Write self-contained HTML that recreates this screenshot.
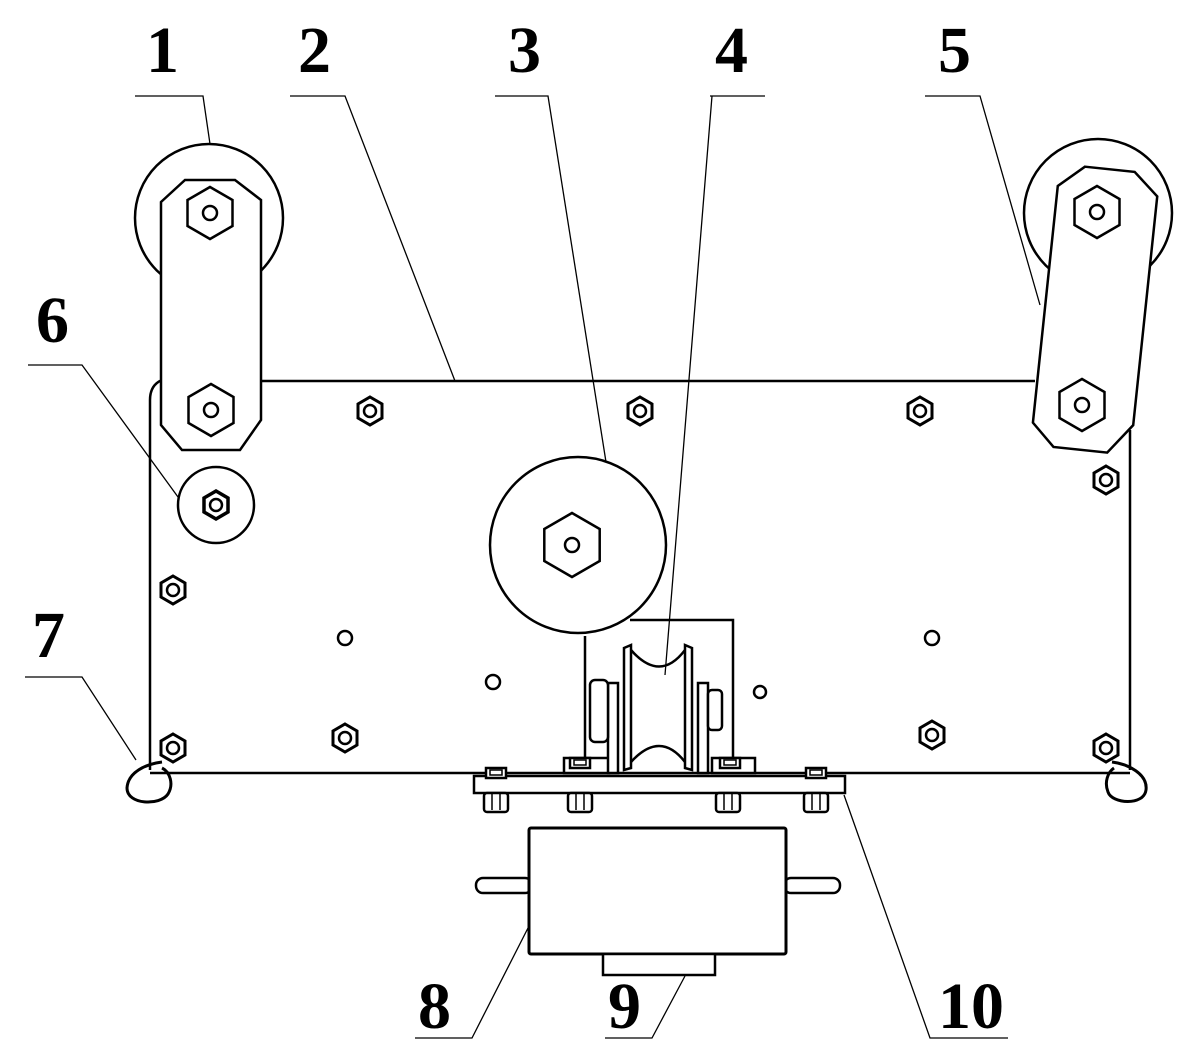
<!DOCTYPE html>
<html><head><meta charset="utf-8"><style>
html,body{margin:0;padding:0;background:#fff}
svg{display:block}
text{font-family:"Liberation Serif",serif;font-weight:bold;font-size:66px;fill:#000}
</style></head><body>
<svg width="1202" height="1057" viewBox="0 0 1202 1057" xmlns="http://www.w3.org/2000/svg">
<defs>
<g id="nut"><polygon points="0,-14 12,-7 12,7 0,14 -12,7 -12,-7" fill="#fff" stroke="#000" stroke-width="3"/><circle r="6" fill="none" stroke="#000" stroke-width="2.5"/></g>
<g id="hexb"><polygon points="0,-26 22.5,-13 22.5,13 0,26 -22.5,13 -22.5,-13" fill="#fff" stroke="#000" stroke-width="2.5"/><circle r="7" fill="none" stroke="#000" stroke-width="2.5"/></g>
<g id="bolt"><rect x="-10" y="-8" width="20" height="10" fill="#fff" stroke="#000" stroke-width="2.5"/><rect x="-6" y="-6" width="12" height="5" fill="none" stroke="#000" stroke-width="1.5"/></g>
<g id="nutb"><rect x="-12" y="0" width="24" height="19" rx="3" fill="#fff" stroke="#000" stroke-width="2.5"/><line x1="-4" y1="0" x2="-4" y2="17" stroke="#000" stroke-width="1.5"/><line x1="4" y1="0" x2="4" y2="17" stroke="#000" stroke-width="1.5"/></g>
</defs>
<g fill="none" stroke="#000" stroke-width="2.5">
<path d="M262,381 L1035,381 M1130,430 L1130,770 M150,773 L1130,773 M150,770 L150,400 Q150,385 162,380"/>
<circle cx="209" cy="218" r="74" fill="#fff"/>
<polygon points="185,180 235,180 261,200 261,420 240,450 182,450 161,425 161,202" fill="#fff"/>
<use href="#hexb" x="210" y="213"/>
<use href="#hexb" x="211" y="410"/>
<circle cx="216" cy="505" r="38" fill="#fff"/>
<polygon points="216,491 228,498 228,512 216,519 204,512 204,498" stroke-width="3.5"/>
<circle cx="216" cy="505" r="6"/>
<circle cx="1098" cy="213" r="74" fill="#fff"/>
<g transform="rotate(6 1090 310)">
<polygon points="1070,168 1120,168 1145,190 1145,420 1122,450 1068,450 1045,428 1045,190" fill="#fff"/>
</g>
<use href="#hexb" x="1097" y="212"/>
<use href="#hexb" x="1082" y="405"/>
<use href="#nut" x="370" y="411"/><use href="#nut" x="640" y="411"/><use href="#nut" x="920" y="411"/>
<use href="#nut" x="1106" y="480"/><use href="#nut" x="173" y="590"/><use href="#nut" x="173" y="748"/>
<use href="#nut" x="345" y="738"/><use href="#nut" x="932" y="735"/><use href="#nut" x="1106" y="748"/>
<circle cx="345" cy="638" r="7"/><circle cx="932" cy="638" r="7"/>
<circle cx="493" cy="682" r="7"/><circle cx="760" cy="692" r="6"/>
<circle cx="578" cy="545" r="88" fill="#fff"/>
<polygon points="572,513 599.7,529 599.7,561 572,577 544.3,561 544.3,529" fill="#fff"/>
<circle cx="572" cy="545" r="7"/>
<path d="M630,620 L733,620 L733,758 M585,636 L585,758"/>
<rect x="564" y="758" width="45" height="15" fill="#fff"/>
<rect x="712" y="758" width="43" height="15" fill="#fff"/>
<rect x="608" y="683" width="10" height="90" fill="#fff"/>
<rect x="698" y="683" width="10" height="90" fill="#fff"/>
<rect x="590" y="680" width="18" height="62" rx="5" fill="#fff"/>
<rect x="708" y="690" width="14" height="40" rx="4" fill="#fff"/>
<path d="M624,648 L631,645 L631,768 L624,770 Z M692,648 L685,645 L685,768 L692,770 Z" fill="#fff"/>
<path d="M631,650 Q660,683 685,650 M631,762 Q660,730 685,762"/>
<rect x="474" y="776" width="371" height="17" fill="#fff"/>
<use href="#bolt" x="496" y="776"/><use href="#bolt" x="816" y="776"/>
<use href="#bolt" x="580" y="766"/><use href="#bolt" x="730" y="766"/>
<use href="#nutb" x="496" y="793"/><use href="#nutb" x="580" y="793"/><use href="#nutb" x="728" y="793"/><use href="#nutb" x="816" y="793"/>
<rect x="476" y="878" width="56" height="15" rx="7" fill="#fff"/>
<rect x="784" y="878" width="56" height="15" rx="7" fill="#fff"/>
<rect x="529" y="828" width="257" height="126" rx="2" fill="#fff" stroke-width="3"/>
<rect x="603" y="954" width="112" height="21" fill="#fff"/>
<path d="M162,762 C146,764 128,772 127,788 C127,805 160,806 168,794 C174,784 170,772 162,768" stroke-width="3"/>
<path d="M1112,762 C1128,764 1148,774 1146,790 C1144,806 1112,804 1108,792 C1104,782 1108,772 1114,768" stroke-width="3"/>
</g>
<g fill="none" stroke="#000" stroke-width="1.3">
<path d="M135,96 L203,96 L210,144"/>
<path d="M290,96 L345,96 L455,381"/>
<path d="M495,96 L548,96 L606,462"/>
<path d="M710,96 L765,96 L712,96 L665,675"/>
<path d="M925,96 L980,96 L1040,305"/>
<path d="M28,365 L82,365 L178,497"/>
<path d="M25,677 L82,677 L136,760"/>
<path d="M415,1038 L472,1038 L528,928"/>
<path d="M605,1038 L652,1038 L685,976"/>
<path d="M1008,1038 L930,1038 L844,795"/>
</g>
<text x="146" y="72">1</text>
<text x="298" y="72">2</text>
<text x="508" y="72">3</text>
<text x="715" y="72">4</text>
<text x="938" y="72">5</text>
<text x="36" y="342">6</text>
<text x="32" y="657">7</text>
<text x="418" y="1028">8</text>
<text x="608" y="1028">9</text>
<text x="938" y="1028">10</text>
</svg>
</body></html>
